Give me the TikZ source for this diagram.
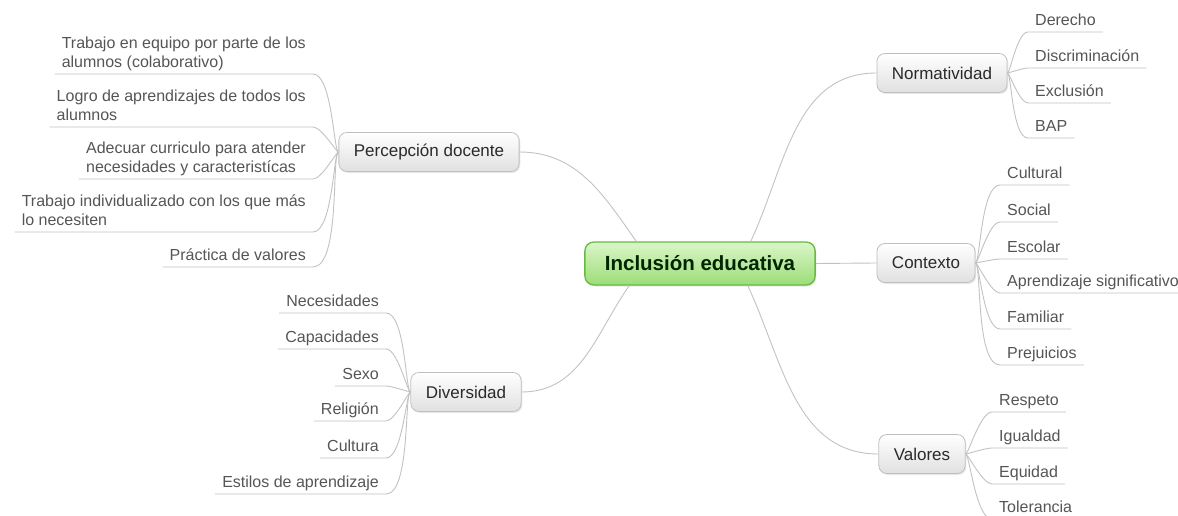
\documentclass[tikz,border=0pt]{standalone}
\usepackage{fontspec}
\setmainfont{Liberation Sans}
\usetikzlibrary{shadows}

\definecolor{twiggray}{HTML}{C2C2C2}
\definecolor{leaftext}{HTML}{555555}
\definecolor{topictext}{HTML}{2A2A2A}
\definecolor{rootline}{HTML}{68B942}
\definecolor{roottop}{HTML}{DAF6C8}
\definecolor{rootbottom}{HTML}{9CDD78}

\tikzset{
  root/.style={rounded corners=9pt, draw=rootline, line width=1.3pt,
    top color=roottop, bottom color=rootbottom,
    font=\fontsize{20.5}{24}\selectfont\bfseries, text=black!85!green,
    inner xsep=20pt, minimum height=43pt,
    drop shadow={shadow xshift=1.2pt, shadow yshift=-1.5pt, opacity=0.2}},
  topic/.style={rounded corners=8pt, draw=black!25, line width=0.8pt,
    top color=white, bottom color=black!12,
    font=\fontsize{17}{20}\selectfont, text=topictext,
    inner xsep=15pt, minimum height=39pt,
    drop shadow={shadow xshift=1.2pt, shadow yshift=-1.5pt, opacity=0.18}},
  leaf/.style={font=\fontsize{16}{19}\selectfont, text=leaftext,
    inner xsep=7pt, inner ysep=1pt, align=left, execute at end node=\strut},
  leafl/.style={leaf, anchor=south east},
  leafr/.style={leaf, anchor=south west},
  twig/.style={draw=twiggray, line width=0.9pt},
}

\begin{document}
\begin{tikzpicture}[x=1pt, y=-1pt]
  \useasboundingbox (0,0) rectangle (1178,516);

  % centre and main topics
  \node[root] (root) at (700,263.5) {Inclusión educativa};
  \node[topic] (pd) at (429,152) {Percepción docente};
  \node[topic] (dv) at (466,392) {Diversidad};
  \node[topic] (nm) at (942,73) {Normatividad};
  \node[topic] (cx) at (926,263) {Contexto};
  \node[topic] (vl) at (922,454) {Valores};

  % leaves of Percepción docente
  \node[leafl] (pd1) at (313,74) {Trabajo en equipo por parte de los\\alumnos (colaborativo)};
  \node[leafl] (pd2) at (313,127) {Logro de aprendizajes de todos los\\alumnos};
  \node[leafl] (pd3) at (313,179) {Adecuar curriculo para atender\\necesidades y caracteristícas};
  \node[leafl] (pd4) at (313,232) {Trabajo individualizado con los que más\\lo necesiten};
  \node[leafl] (pd5) at (313,267) {Práctica de valores};

  % leaves of Diversidad
  \node[leafl] (dv1) at (386,313) {Necesidades};
  \node[leafl] (dv2) at (386,349) {Capacidades};
  \node[leafl] (dv3) at (386,386) {Sexo};
  \node[leafl] (dv4) at (386,421) {Religión};
  \node[leafl] (dv5) at (386,458) {Cultura};
  \node[leafl] (dv6) at (386,494) {Estilos de aprendizaje};

  % leaves of Normatividad
  \node[leafr] (nm1) at (1028,32) {Derecho};
  \node[leafr] (nm2) at (1028,68) {Discriminación};
  \node[leafr] (nm3) at (1028,103) {Exclusión};
  \node[leafr] (nm4) at (1028,138) {BAP};

  % leaves of Contexto
  \node[leafr] (cx1) at (1000,185) {Cultural};
  \node[leafr] (cx2) at (1000,222) {Social};
  \node[leafr] (cx3) at (1000,259) {Escolar};
  \node[leafr] (cx4) at (1000,293) {Aprendizaje significativo};
  \node[leafr] (cx5) at (1000,329) {Familiar};
  \node[leafr] (cx6) at (1000,365) {Prejuicios};

  % leaves of Valores
  \node[leafr] (vl1) at (992,412) {Respeto};
  \node[leafr] (vl2) at (992,448) {Igualdad};
  \node[leafr] (vl3) at (992,484) {Equidad};
  \node[leafr] (vl4) at (992,519) {Tolerancia};

  % branches from the centre
  \draw[twig] (pd.east) to[out=0,in=125] ([xshift=52pt]root.north west);
  \draw[twig] (dv.east) to[out=0,in=235] ([xshift=45pt]root.south west);
  \draw[twig] (nm.west) to[out=180,in=65] ([xshift=-65pt]root.north east);
  \draw[twig] (root.east) -- (cx.west);
  \draw[twig] (vl.west) to[out=180,in=295] ([xshift=-68pt]root.south east);

  % twigs on the left
  \draw[twig] (pd1.south west) -- (pd1.south east) to[out=0,in=180,out looseness=0.6,in looseness=0.15] (pd.west);
  \draw[twig] (pd2.south west) -- (pd2.south east) to[out=0,in=180,out looseness=0.6,in looseness=0.15] (pd.west);
  \draw[twig] (pd3.south west) -- (pd3.south east) to[out=0,in=180,out looseness=0.6,in looseness=0.15] (pd.west);
  \draw[twig] (pd4.south west) -- (pd4.south east) to[out=0,in=180,out looseness=0.6,in looseness=0.15] (pd.west);
  \draw[twig] (pd5.south west) -- (pd5.south east) to[out=0,in=180,out looseness=0.6,in looseness=0.15] (pd.west);
  \draw[twig] (dv1.south west) -- (dv1.south east) to[out=0,in=180,out looseness=0.6,in looseness=0.15] (dv.west);
  \draw[twig] (dv2.south west) -- (dv2.south east) to[out=0,in=180,out looseness=0.6,in looseness=0.15] (dv.west);
  \draw[twig] (dv3.south west) -- (dv3.south east) to[out=0,in=180,out looseness=0.6,in looseness=0.15] (dv.west);
  \draw[twig] (dv4.south west) -- (dv4.south east) to[out=0,in=180,out looseness=0.6,in looseness=0.15] (dv.west);
  \draw[twig] (dv5.south west) -- (dv5.south east) to[out=0,in=180,out looseness=0.6,in looseness=0.15] (dv.west);
  \draw[twig] (dv6.south west) -- (dv6.south east) to[out=0,in=180,out looseness=0.6,in looseness=0.15] (dv.west);

  % twigs on the right
  \draw[twig] (nm1.south east) -- (nm1.south west) to[out=180,in=0,out looseness=0.6,in looseness=0.15] (nm.east);
  \draw[twig] (nm2.south east) -- (nm2.south west) to[out=180,in=0,out looseness=0.6,in looseness=0.15] (nm.east);
  \draw[twig] (nm3.south east) -- (nm3.south west) to[out=180,in=0,out looseness=0.6,in looseness=0.15] (nm.east);
  \draw[twig] (nm4.south east) -- (nm4.south west) to[out=180,in=0,out looseness=0.6,in looseness=0.15] (nm.east);
  \draw[twig] (cx1.south east) -- (cx1.south west) to[out=180,in=0,out looseness=0.6,in looseness=0.15] (cx.east);
  \draw[twig] (cx2.south east) -- (cx2.south west) to[out=180,in=0,out looseness=0.6,in looseness=0.15] (cx.east);
  \draw[twig] (cx3.south east) -- (cx3.south west) to[out=180,in=0,out looseness=0.6,in looseness=0.15] (cx.east);
  \draw[twig] (cx4.south east) -- (cx4.south west) to[out=180,in=0,out looseness=0.6,in looseness=0.15] (cx.east);
  \draw[twig] (cx5.south east) -- (cx5.south west) to[out=180,in=0,out looseness=0.6,in looseness=0.15] (cx.east);
  \draw[twig] (cx6.south east) -- (cx6.south west) to[out=180,in=0,out looseness=0.6,in looseness=0.15] (cx.east);
  \draw[twig] (vl1.south east) -- (vl1.south west) to[out=180,in=0,out looseness=0.6,in looseness=0.15] (vl.east);
  \draw[twig] (vl2.south east) -- (vl2.south west) to[out=180,in=0,out looseness=0.6,in looseness=0.15] (vl.east);
  \draw[twig] (vl3.south east) -- (vl3.south west) to[out=180,in=0,out looseness=0.6,in looseness=0.15] (vl.east);
  \draw[twig] (vl4.south east) -- (vl4.south west) to[out=180,in=0,out looseness=0.6,in looseness=0.15] (vl.east);
\end{tikzpicture}
\end{document}
